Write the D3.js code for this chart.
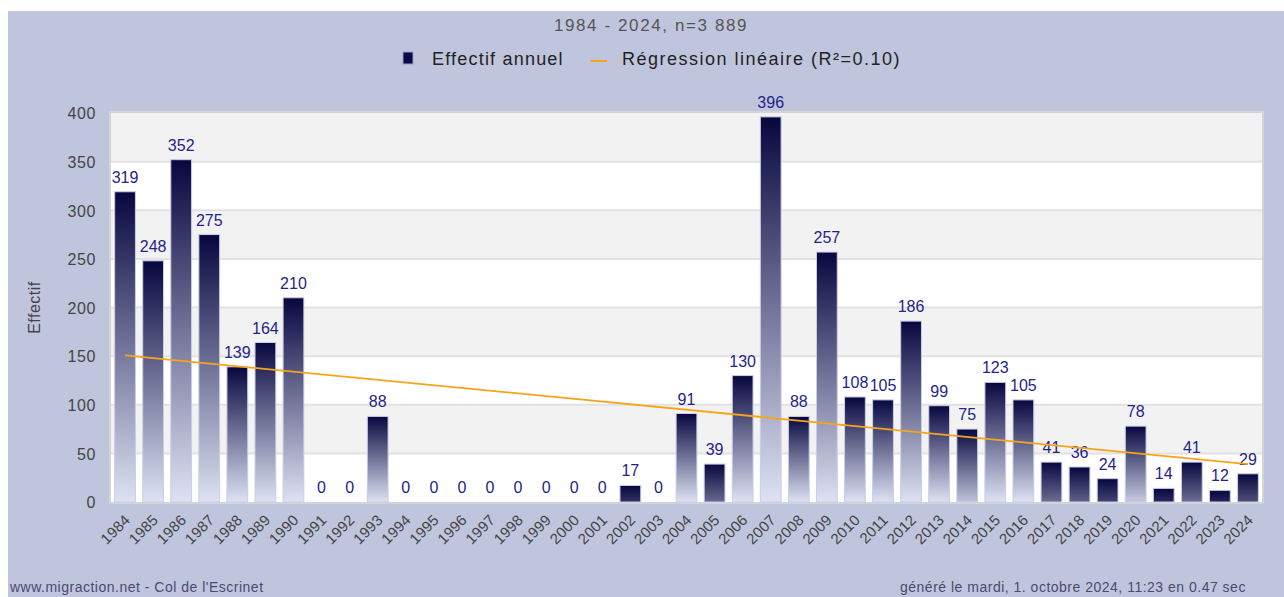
<!DOCTYPE html>
<html>
<head>
<meta charset="utf-8">
<script src="https://cdn.jsdelivr.net/npm/d3@7"></script>
<style>
  body { margin: 0; background: #fff; }
  svg { display: block; font-family: "Liberation Sans", Arial, sans-serif; }
</style>
</head>
<body>
<div id="chart"></div>
<script>
var years = [1984, 1985, 1986, 1987, 1988, 1989, 1990, 1991, 1992, 1993, 1994, 1995, 1996, 1997,
  1998, 1999, 2000, 2001, 2002, 2003, 2004, 2005, 2006, 2007, 2008, 2009, 2010, 2011, 2012, 2013,
  2014, 2015, 2016, 2017, 2018, 2019, 2020, 2021, 2022, 2023, 2024];
var counts = [319, 248, 352, 275, 139, 164, 210, 0, 0, 88, 0, 0, 0, 0,
  0, 0, 0, 0, 17, 0, 91, 39, 130, 396, 88, 257, 108, 105, 186, 99,
  75, 123, 105, 41, 36, 24, 78, 14, 41, 12, 29];
var yTicks = [0, 50, 100, 150, 200, 250, 300, 350, 400];

var title = "1984 - 2024, n=3 889";
var legendBar = "Effectif annuel";
var legendLine = "Régression linéaire (R²=0.10)";
var footLeft = "www.migraction.net - Col de l'Escrinet";
var footRight = "généré le mardi, 1. octobre 2024, 11:23 en 0.47 sec";

var W = 1284, H = 597;
var plot = {left: 111, right: 1262, top: 113, bottom: 502};

var svg = d3.select("#chart").append("svg")
  .attr("width", W)
  .attr("height", H);

// lavender background
svg.append("rect")
  .attr("x", 8).attr("y", 11)
  .attr("width", W - 8).attr("height", H - 11)
  .attr("fill", "#c0c5de");

var x = d3.scaleBand()
  .domain(years)
  .range([plot.left, plot.right])
  .paddingInner(0.26)
  .paddingOuter(0.13);

var y = d3.scaleLinear()
  .domain([0, 400])
  .range([plot.bottom, plot.top]);

// plot background, alternate bands
svg.append("rect")
  .attr("x", plot.left - 1).attr("y", plot.top - 1)
  .attr("width", plot.right - plot.left + 2).attr("height", plot.bottom - plot.top + 2)
  .attr("fill", "#fff")
  .attr("stroke", "#d4d4d8")
  .attr("stroke-width", 2);

svg.selectAll(".band")
  .data(d3.pairs(yTicks))
  .enter()
  .append("rect")
  .attr("x", plot.left)
  .attr("y", function(d) { return y(d[1]); })
  .attr("width", plot.right - plot.left)
  .attr("height", function(d) { return y(d[0]) - y(d[1]); })
  .attr("fill", function(d, i) { return i % 2 === 1 ? "#f2f2f2" : "#fff"; });

svg.selectAll(".grid")
  .data(yTicks.slice(1, -1))
  .enter()
  .append("line")
  .attr("x1", plot.left).attr("x2", plot.right)
  .attr("y1", function(d) { return y(d); })
  .attr("y2", function(d) { return y(d); })
  .attr("stroke", "#e2e2e2")
  .attr("stroke-width", 2);

// y axis
var yAxis = svg.append("g")
  .attr("transform", "translate(" + (plot.left - 15) + ",0)")
  .call(d3.axisLeft(y).tickValues(yTicks).tickSize(0).tickPadding(0));
yAxis.select(".domain").remove();
yAxis.selectAll("text")
  .attr("fill", "#444")
  .attr("dy", "0.36em")
  .style("font-size", "16px")
  .style("letter-spacing", "0.6px");

svg.append("text")
  .attr("transform", "translate(40," + ((plot.top + plot.bottom) / 2) + ") rotate(-90)")
  .attr("text-anchor", "middle")
  .attr("fill", "#444")
  .style("font-size", "16px")
  .style("letter-spacing", "0.5px")
  .text("Effectif");

// x axis
var xAxis = svg.append("g")
  .attr("transform", "translate(0," + plot.bottom + ")")
  .call(d3.axisBottom(x).tickSize(0).tickPadding(0));
xAxis.select(".domain").remove();
xAxis.selectAll("text")
  .attr("fill", "#444")
  .attr("text-anchor", "end")
  .attr("dy", null)
  .attr("y", 0)
  .attr("transform", "translate(6,19) rotate(-45)")
  .style("font-size", "15px")
  .style("letter-spacing", "0.2px");

// gradients, one per bar
var defs = svg.append("defs");
var dark = "#07073f", light = "#dde2f3";
var mix = d3.interpolateRgb(dark, light);

counts.forEach(function(v, i) {
  var h = y(0) - y(v);
  var g = defs.append("linearGradient")
    .attr("id", "grad" + i)
    .attr("x1", 0).attr("y1", 0).attr("x2", 0).attr("y2", 1);
  g.append("stop").attr("offset", "0%").attr("stop-color", dark);
  g.append("stop").attr("offset", "100%").attr("stop-color", mix(Math.min(1, h / 85)));
});

var idx = d3.range(counts.length).filter(function(i) { return counts[i] > 0; });

svg.selectAll(".bar")
  .data(idx)
  .enter()
  .append("rect")
  .attr("x", function(i) { return x(years[i]); })
  .attr("y", function(i) { return y(counts[i]); })
  .attr("width", x.bandwidth())
  .attr("height", function(i) { return y(0) - y(counts[i]); })
  .attr("fill", function(i) { return "url(#grad" + i + ")"; })
  .attr("stroke", "#c9cde6")
  .attr("stroke-width", 1);

svg.selectAll(".val")
  .data(counts)
  .enter()
  .append("text")
  .attr("x", function(d, i) { return x(years[i]) + x.bandwidth() / 2; })
  .attr("y", function(d) { return y(d) - 9; })
  .attr("text-anchor", "middle")
  .attr("fill", "#24248a")
  .style("font-size", "16px")
  .text(function(d) { return d; });

// linear regression from the series
var xs = d3.range(counts.length);
var mx = d3.mean(xs), my = d3.mean(counts);
var sxy = d3.sum(xs, function(k) { return (k - mx) * (counts[k] - my); });
var sxx = d3.sum(xs, function(k) { return (k - mx) * (k - mx); });
var slope = sxy / sxx, icpt = my - slope * mx;

var line = d3.line()
  .x(function(k) { return x(years[k]) + x.bandwidth() / 2; })
  .y(function(k) { return y(icpt + slope * k); });

svg.append("path")
  .attr("d", line([0, counts.length - 1]))
  .attr("fill", "none")
  .attr("stroke", "#f8a41a")
  .attr("stroke-width", 1.8);

// title and legend
svg.append("text")
  .attr("x", 651).attr("y", 31)
  .attr("text-anchor", "middle")
  .attr("fill", "#555")
  .style("font-size", "17px")
  .style("letter-spacing", "1.6px")
  .text(title);

svg.append("rect")
  .attr("x", 403).attr("y", 52)
  .attr("width", 10).attr("height", 12)
  .attr("fill", "#0a0a4b")
  .attr("stroke", "#9a9ec0");

svg.append("text")
  .attr("x", 432).attr("y", 65)
  .attr("fill", "#222")
  .style("font-size", "18px")
  .style("letter-spacing", "1.2px")
  .text(legendBar);

svg.append("line")
  .attr("x1", 590).attr("x2", 607)
  .attr("y1", 61).attr("y2", 61)
  .attr("stroke", "#f8a41a")
  .attr("stroke-width", 2);

svg.append("text")
  .attr("x", 622).attr("y", 65)
  .attr("fill", "#222")
  .style("font-size", "18px")
  .style("letter-spacing", "1.5px")
  .text(legendLine);

// footer
svg.append("text")
  .attr("x", 10).attr("y", 592)
  .attr("fill", "#4a4a72")
  .style("font-size", "14px")
  .style("letter-spacing", "0.5px")
  .text(footLeft);

svg.append("text")
  .attr("x", 900).attr("y", 592)
  .attr("fill", "#4a4a72")
  .style("font-size", "14px")
  .style("letter-spacing", "0.5px")
  .text(footRight);
</script>
</body>
</html>
